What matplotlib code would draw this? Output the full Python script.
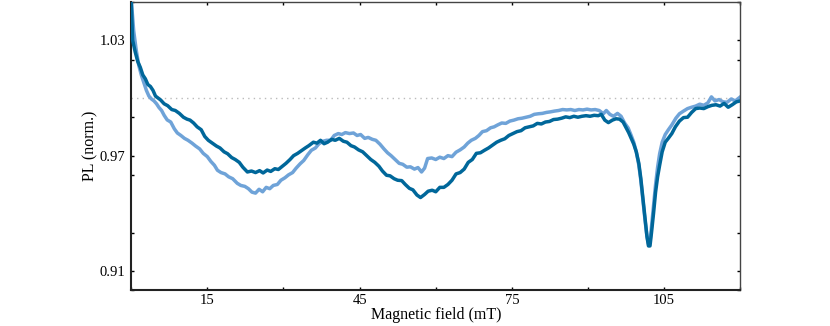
import numpy as np
import matplotlib
matplotlib.use("Agg")
import matplotlib.pyplot as plt
from matplotlib.ticker import MultipleLocator

# dark trace
x_dark = [0.0, 0.3, 0.8, 1.3, 1.8, 2.3, 2.8, 3.3, 3.8, 4.3, 4.8, 5.3, 5.8, 6.5, 7.2, 8.0, 8.7, 9.5,
          10.3, 11.0, 11.6, 12.3, 13.0, 13.8, 14.5, 15.2, 16.0, 16.8, 17.5, 18.3, 19.0, 19.8, 20.5,
          21.3, 22.0, 22.9, 23.7, 24.5, 25.3, 26.0, 26.8, 27.5, 28.3, 29.0, 29.8, 30.5, 31.3, 32.0,
          32.8, 33.5, 34.3, 35.0, 35.9, 36.6, 37.3, 38.0, 38.7, 39.5, 40.2, 41.0, 41.8, 42.5, 43.3,
          44.0, 44.8, 45.6, 46.4, 47.2, 48.0, 48.8, 49.5, 50.3, 51.0, 51.8, 52.5, 53.3, 54.0, 54.8,
          55.5, 56.3, 57.0, 57.8, 58.5, 59.3, 60.0, 60.8, 61.6, 62.4, 63.2, 64.0, 64.8, 65.6, 66.4,
          67.2, 68.0, 68.8, 69.6, 70.4, 71.2, 72.0, 72.8, 73.6, 74.4, 75.2, 76.0, 76.8, 77.6, 78.4,
          79.2, 80.0, 80.8, 81.6, 82.4, 83.2, 84.0, 84.8, 85.6, 86.4, 87.2, 88.0, 88.8, 89.6, 90.4,
          91.2, 92.0, 92.6, 93.3, 94.0, 94.8, 95.5, 96.2, 96.9, 97.5, 98.0, 98.5, 99.0, 99.5, 100.0,
          100.4, 100.8, 101.2, 101.6, 101.9, 102.2, 102.5, 102.9, 103.3, 103.7, 104.1, 104.6, 105.2,
          105.8, 106.5, 107.2, 108.0, 108.8, 109.6, 110.4, 111.2, 112.0, 112.8, 113.6, 114.4, 115.2,
          116.0, 116.8, 117.6, 118.4, 119.2, 120.0]
y_dark = [1.052, 1.030, 1.024, 1.019, 1.016, 1.012, 1.010, 1.007, 1.006, 1.004, 1.001, 1.000, 0.999,
          0.997, 0.996, 0.994, 0.9935, 0.992, 0.990, 0.989, 0.9885, 0.987, 0.985, 0.9835, 0.980,
          0.978, 0.9765, 0.975, 0.974, 0.972, 0.971, 0.969, 0.968, 0.9665, 0.964, 0.9615, 0.962,
          0.9612, 0.9622, 0.961, 0.9625, 0.9618, 0.9632, 0.9628, 0.9645, 0.966, 0.968, 0.970,
          0.9712, 0.9725, 0.974, 0.9752, 0.977, 0.9765, 0.978, 0.9762, 0.977, 0.9785, 0.978, 0.979,
          0.9775, 0.977, 0.9752, 0.9745, 0.973, 0.972, 0.970, 0.968, 0.9665, 0.9645, 0.962, 0.9598,
          0.9595, 0.958, 0.9572, 0.957, 0.955, 0.953, 0.9522, 0.9495, 0.9482, 0.9498, 0.9515,
          0.952, 0.9512, 0.9535, 0.9535, 0.955, 0.9572, 0.9605, 0.9612, 0.963, 0.9665, 0.968,
          0.9712, 0.9715, 0.9728, 0.974, 0.9755, 0.977, 0.978, 0.9788, 0.9805, 0.9815, 0.9825,
          0.983, 0.9845, 0.985, 0.9855, 0.9868, 0.9865, 0.9875, 0.9878, 0.9888, 0.989, 0.9895,
          0.9902, 0.9898, 0.9905, 0.990, 0.9905, 0.9908, 0.9905, 0.991, 0.9908, 0.9915, 0.9885,
          0.9872, 0.9885, 0.9892, 0.989, 0.9875, 0.9845, 0.982, 0.979, 0.976, 0.972, 0.966, 0.958,
          0.948, 0.938, 0.928, 0.923, 0.923, 0.930, 0.940, 0.951, 0.959, 0.965, 0.972, 0.977,
          0.979, 0.9815, 0.985, 0.988, 0.9898, 0.990, 0.9925, 0.9945, 0.9948, 0.9945, 0.9955,
          0.9962, 0.9965, 0.9958, 0.9972, 0.9952, 0.9965, 0.998, 0.9985]

# light trace
x_light = [0.0, 0.5, 1.0, 1.5, 2.0, 2.5, 3.0, 3.5, 4.0, 4.5, 5.0, 5.5, 6.0, 6.5, 7.1, 7.8, 8.5, 9.1,
           9.8, 10.5, 11.2, 12.0, 12.7, 13.5, 14.2, 15.0, 15.7, 16.4, 17.0, 17.7, 18.5, 19.2, 20.0,
           20.9, 21.6, 22.4, 23.1, 23.8, 24.5, 25.2, 25.9, 26.6, 27.3, 28.0, 28.8, 29.5, 30.3, 31.0,
           31.8, 32.5, 33.3, 34.0, 34.8, 35.5, 36.3, 37.0, 37.8, 38.5, 39.3, 40.0, 40.8, 41.5, 42.2,
           43.0, 43.8, 44.5, 45.2, 46.0, 46.7, 47.5, 48.2, 49.0, 49.8, 50.5, 51.2, 52.0, 52.8, 53.5,
           54.3, 55.0, 55.8, 56.5, 57.2, 57.8, 58.4, 59.2, 60.0, 60.8, 61.6, 62.4, 63.2, 64.0, 64.8,
           65.6, 66.3, 67.0, 67.8, 68.5, 69.2, 70.0, 70.8, 71.5, 72.2, 73.0, 73.8, 74.6, 75.4, 76.2,
           77.0, 77.8, 78.6, 79.4, 80.2, 81.0, 81.8, 82.6, 83.4, 84.2, 85.0, 85.8, 86.6, 87.4, 88.2,
           89.0, 89.8, 90.6, 91.4, 92.2, 93.0, 93.6, 94.3, 95.0, 95.8, 96.5, 97.2, 97.9, 98.5, 99.0,
           99.5, 100.0, 100.4, 100.8, 101.2, 101.6, 101.9, 102.2, 102.5, 102.9, 103.3, 103.7, 104.1,
           104.6, 105.2, 105.8, 106.5, 107.3, 108.0, 108.8, 109.6, 110.4, 111.2, 112.0, 112.8, 113.6,
           114.3, 115.0, 115.8, 116.6, 117.4, 118.2, 119.0, 120.0]
y_light = [1.052, 1.035, 1.025, 1.017, 1.012, 1.008, 1.004, 1.001, 0.9995, 0.9985, 0.997, 0.995,
           0.9935, 0.991, 0.9886, 0.9875, 0.984, 0.9818, 0.9805, 0.979, 0.978, 0.9765, 0.975,
           0.9735, 0.9712, 0.9695, 0.967, 0.965, 0.9624, 0.9612, 0.9605, 0.959, 0.958, 0.9556,
           0.9545, 0.954, 0.9528, 0.951, 0.9505, 0.9525, 0.9512, 0.9535, 0.9528, 0.9545, 0.955,
           0.9572, 0.9585, 0.960, 0.9612, 0.9635, 0.9658, 0.9675, 0.9705, 0.9728, 0.974, 0.9762,
           0.9775, 0.978, 0.978, 0.9805, 0.9815, 0.981, 0.982, 0.9815, 0.9818, 0.9805, 0.981,
           0.979, 0.9795, 0.9785, 0.978, 0.976, 0.9735, 0.9715, 0.970, 0.968, 0.966, 0.9655,
           0.964, 0.9642, 0.963, 0.9638, 0.9615, 0.9635, 0.9685, 0.9688, 0.968, 0.9692, 0.9685,
           0.970, 0.9695, 0.9718, 0.973, 0.9745, 0.9765, 0.978, 0.979, 0.9805, 0.9825, 0.983,
           0.9845, 0.985, 0.986, 0.987, 0.9868, 0.988, 0.9885, 0.9892, 0.9895, 0.990, 0.9905,
           0.9915, 0.9918, 0.992, 0.9925, 0.9928, 0.9932, 0.9935, 0.994, 0.9938, 0.994, 0.9935,
           0.994, 0.9938, 0.9942, 0.9938, 0.994, 0.9935, 0.9918, 0.9935, 0.9915, 0.9905, 0.992,
           0.9905, 0.987, 0.9844, 0.9805, 0.977, 0.972, 0.965, 0.957, 0.947, 0.937, 0.928, 0.924,
           0.925, 0.933, 0.944, 0.955, 0.964, 0.971, 0.977, 0.981, 0.9834, 0.986, 0.9895, 0.9918,
           0.9932, 0.9945, 0.9952, 0.9958, 0.9968, 0.9962, 0.9975, 1.0006, 0.9985, 0.9992, 0.998,
           0.9978, 0.9995, 0.9985, 1.0006]

plt.rcParams['font.family'] = ['Liberation Serif', 'DejaVu Serif']
plt.rcParams['font.size'] = 10.5

fig = plt.figure(figsize=(8.3, 3.26), dpi=100)
ax = fig.add_axes([0.158, 0.110, 0.734, 0.884])

ax.axhline(1.0, color='#bbbbbb', ls=(0, (1, 3)), lw=1, zorder=1)
ax.plot(x_light, y_light, color='#6fa3d8', lw=2.5, zorder=2)
ax.plot(x_dark, y_dark, color='#00679a', lw=2.5, zorder=3)

ax.set_xlim(0, 120)
ax.set_ylim(0.9, 1.05)
ax.set_xticks([15, 45, 75, 105])
ax.xaxis.set_minor_locator(MultipleLocator(15))
ax.set_yticks([0.91, 0.97, 1.03])
ax.set_yticklabels(["0.91", "0.97", "1.03"])
ax.yaxis.set_minor_locator(MultipleLocator(0.03))
ax.tick_params(which='both', direction='in', length=2.5, width=1, top=True, right=True)
ax.tick_params(axis='x', pad=3)
ax.tick_params(axis='y', pad=4)

for s in ['left', 'bottom']:
    ax.spines[s].set_linewidth(1.5)
    ax.spines[s].set_color('#222222')
for s in ['top', 'right']:
    ax.spines[s].set_linewidth(1.0)
    ax.spines[s].set_color('#444444')

ax.set_xlabel("Magnetic field (mT)", fontsize=11.5, labelpad=0)
ax.set_ylabel("PL (norm.)", fontsize=11.5, labelpad=1)

fig.savefig("out.png", dpi=100)
